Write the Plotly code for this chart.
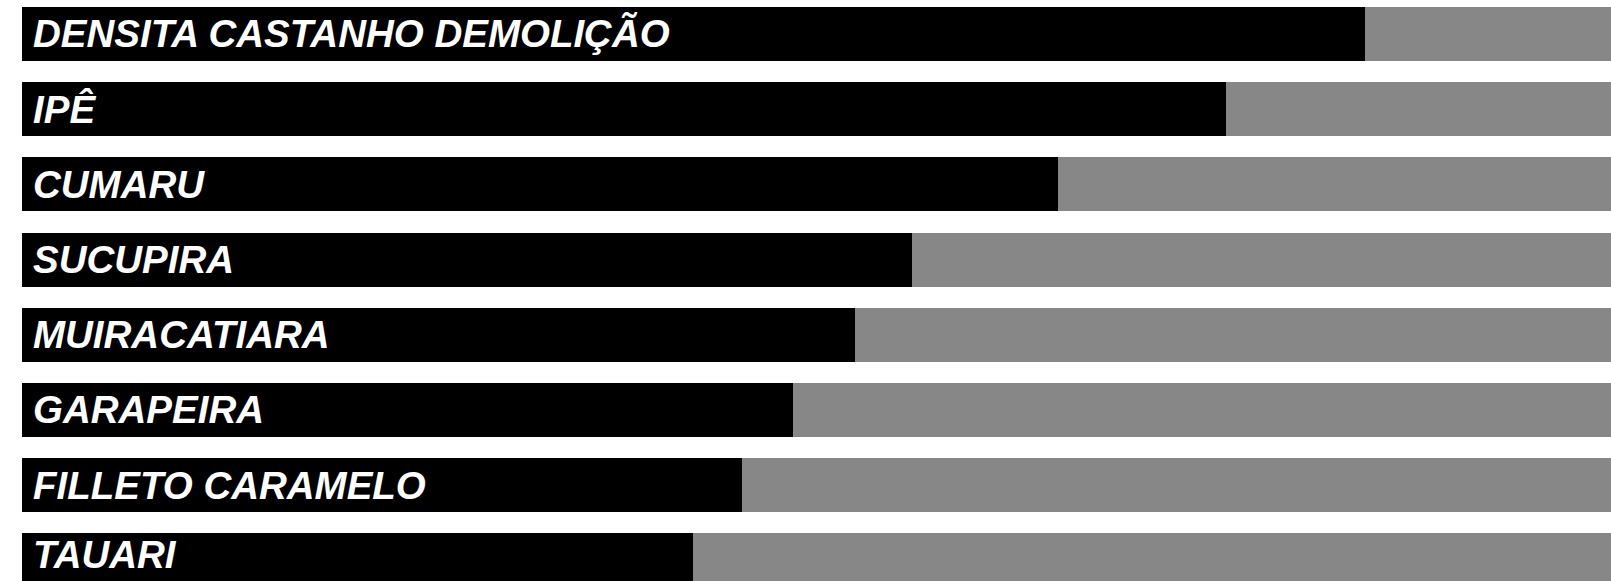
import plotly.graph_objects as go

# Data
woods = [
    "DENSITA CASTANHO DEMOLIÇÃO",
    "IPÊ",
    "CUMARU",
    "SUCUPIRA",
    "MUIRACATIARA",
    "GARAPEIRA",
    "FILLETO CARAMELO",
    "TAUARI",
]
values = [84.5, 75.8, 65.2, 56.0, 52.4, 48.5, 45.3, 42.2]
scale_max = 100
remainder = [scale_max - v for v in values]

fig = go.Figure()
fig.add_trace(go.Bar(
    y=woods, x=values, orientation="h",
    marker=dict(color="#000000", line=dict(width=0)),
    width=0.72, hoverinfo="skip", showlegend=False,
))
fig.add_trace(go.Bar(
    y=woods, x=remainder, orientation="h",
    marker=dict(color="#878787", line=dict(width=0)),
    width=0.72, hoverinfo="skip", showlegend=False,
))

for i, name in enumerate(woods):
    fig.add_annotation(
        x=0, y=name, xref="x", yref="y",
        text=name, showarrow=False,
        xanchor="left", yanchor="middle", xshift=9,
        yshift=6 if i == len(woods) - 1 else 0,
        font=dict(family="Liberation Sans", size=38.5, color="#ffffff",
                  weight="bold", style="italic"),
    )

fig.update_layout(
    barmode="stack",
    width=1611, height=581,
    margin=dict(l=22, r=0, t=0, b=0),
    paper_bgcolor="#ffffff", plot_bgcolor="#ffffff",
    xaxis=dict(range=[0, scale_max], visible=False, fixedrange=True),
    yaxis=dict(type="category", categoryorder="array", categoryarray=woods,
               range=[7.274, -0.452], visible=False, fixedrange=True),
)

fig.write_html(
    "out.html",
    config={"displayModeBar": False},
    post_script="document.body.style.margin='0';document.body.style.overflow='hidden';",
)
